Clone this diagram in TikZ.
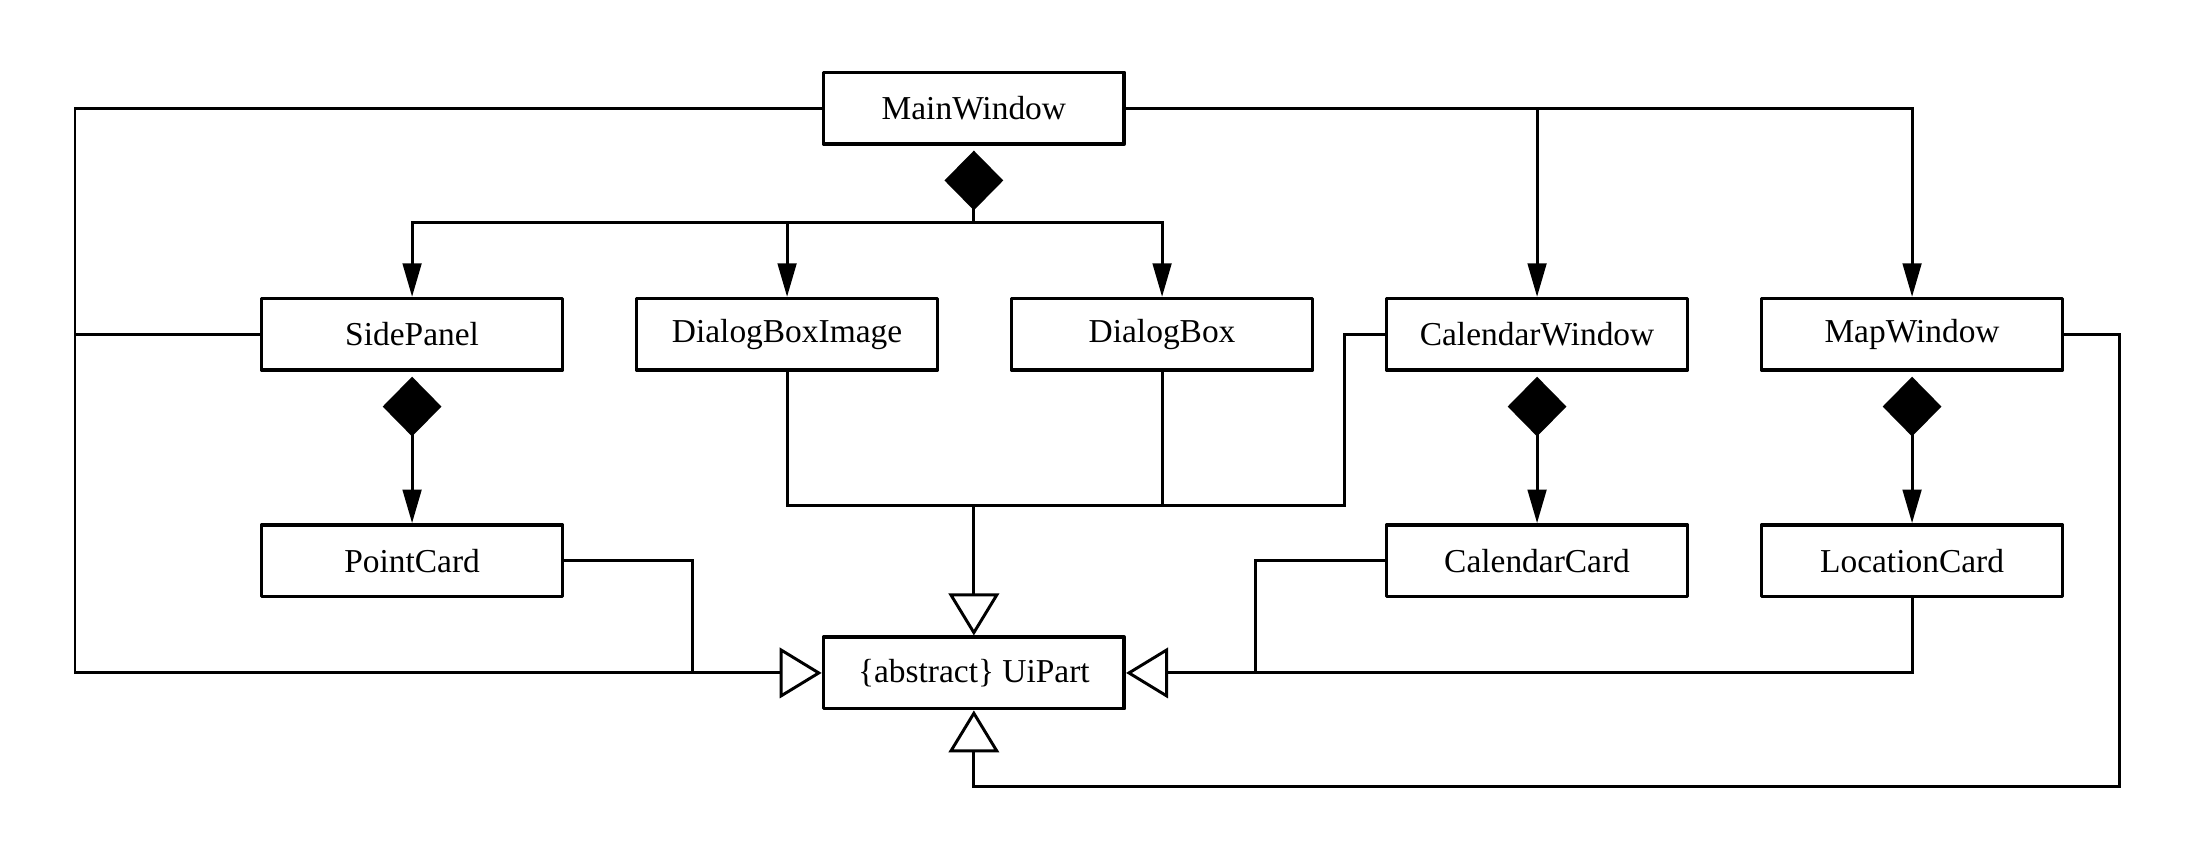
\documentclass[tikz,border=0pt]{standalone}
\usepackage{fontspec}
\setmainfont{Liberation Serif}
\usetikzlibrary{arrows.meta}

\begin{document}
\begin{tikzpicture}[line cap=round,line join=round,x=1.0cm,y=1.0cm,
  cls/.style={draw,line width=1.1pt,minimum width=3.225cm,minimum height=0.765cm,inner sep=0pt,font=\fontsize{10.2}{12}\selectfont},
  wire/.style={line width=0.9pt,line cap=butt,line join=miter},
  nav/.style={wire,-{Triangle[length=3.6mm,width=2mm]}},
  has/.style={wire,shorten <=1.5pt,{Diamond[length=6.4mm,width=6.3mm]}-{Triangle[length=3.6mm,width=2mm]}},
  owns/.style={wire,shorten <=1.5pt,{Diamond[length=6.4mm,width=6.3mm]}-},
  isa/.style={wire,-{Triangle[open,fill=white,length=4.5mm,width=5.4mm]}}]
\useasboundingbox (0,0) rectangle (23.52,9.23);
% classes
\node[cls] (MainWindow) at (10.44,8.07) {MainWindow};
\node[cls] (SidePanel) at (4.4175,5.646) {SidePanel};
\node[cls] (DialogBoxImage) at (8.4375,5.646) {DialogBoxImage};
\node[cls] (DialogBox) at (12.4575,5.646) {DialogBox};
\node[cls] (CalendarWindow) at (16.4775,5.646) {CalendarWindow};
\node[cls] (MapWindow) at (20.4975,5.646) {MapWindow};
\node[cls] (PointCard) at (4.4175,3.22) {PointCard};
\node[cls] (CalendarCard) at (16.4775,3.22) {CalendarCard};
\node[cls] (LocationCard) at (20.4975,3.22) {LocationCard};
\node[cls] (UiPart) at (10.44,2.016) {\{abstract\} UiPart};
% bends
\coordinate (bus) at (10.44,6.846);
\coordinate (leftx) at (0.804,0);
\coordinate (pcx) at (7.425,0);
\coordinate (mid) at (10.44,3.816);
\coordinate (calx) at (14.41,0);
\coordinate (ccx) at (13.455,0);
\coordinate (loop) at (22.72,0.801);
% composition
\draw[owns] (MainWindow.south) -- (bus);
\draw[nav] (bus) -| (SidePanel.north);
\draw[nav] (bus) -| (DialogBoxImage.north);
\draw[nav] (bus) -| (DialogBox.north);
\draw[nav] (MainWindow.east) -| (CalendarWindow.north);
\draw[nav] (MainWindow.east) -| (MapWindow.north);
\draw[has] (SidePanel.south) -- (PointCard.north);
\draw[has] (CalendarWindow.south) -- (CalendarCard.north);
\draw[has] (MapWindow.south) -- (LocationCard.north);
% inheritance
\draw[isa] (MainWindow.west) -| (leftx |- UiPart.west) -- (UiPart.west);
\draw[wire] (SidePanel.west) -- (SidePanel.west -| leftx);
\draw[wire] (PointCard.east) -| (pcx |- UiPart.west);
\draw[wire] (DialogBoxImage.south) |- (mid -| calx) |- (CalendarWindow.west);
\draw[wire] (DialogBox.south) -- (DialogBox.south |- mid);
\draw[isa] (mid) -- (UiPart.north);
\draw[isa] (LocationCard.south) |- (UiPart.east);
\draw[wire] (CalendarCard.west) -| (ccx |- UiPart.east);
\draw[isa] (MapWindow.east) -| (loop) -| (UiPart.south);
\end{tikzpicture}
\end{document}
